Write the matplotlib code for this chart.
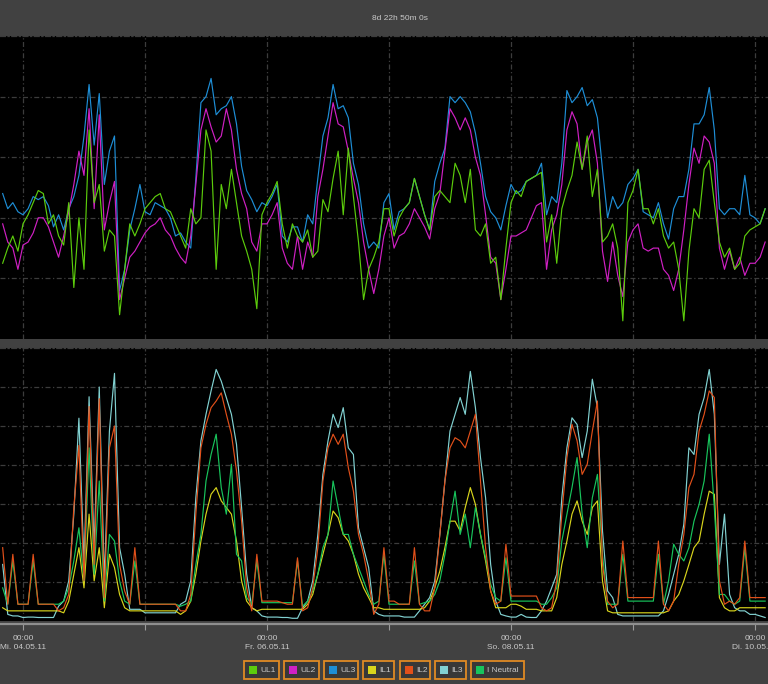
import matplotlib
matplotlib.use("Agg")
import matplotlib.pyplot as plt
from matplotlib.patches import Rectangle
from matplotlib import font_manager as fm

# ---------------- data (hourly, hours since Mi. 04.05.11 00:00) ----------------
hours = list(range(-4, 147))

ul1 = [227.5, 228.0, 228.4, 227.9, 228.8, 229.1, 229.5, 229.9, 229.8, 228.8,
       229.1, 228.4, 228.1, 229.5, 226.7, 229.0, 227.3, 231.9, 229.5, 230.1,
       227.9, 228.6, 228.4, 225.8, 227.3, 228.8, 228.4, 228.8, 229.3, 229.5,
       229.7, 229.8, 229.3, 229.2, 228.8, 228.4, 228.0, 229.3, 228.8, 229.0,
       231.9, 231.2, 227.3, 230.1, 229.3, 230.6, 229.5, 228.4, 227.9, 227.3,
       226.0,
       229.1, 229.5, 229.8, 230.2, 228.8, 228.0, 228.8, 228.4, 228.2, 228.6,
       227.7, 227.9, 229.6, 229.2, 230.3, 231.2, 229.1, 231.3, 229.7, 228.2,
       226.3, 227.3, 227.7, 228.2, 229.3, 229.3, 228.4, 229.0, 229.3, 229.5,
       230.3, 229.7, 229.1, 228.6, 229.7, 229.9, 229.7, 229.5, 230.8, 230.4,
       229.5, 230.6, 228.6, 228.4, 228.8, 227.5, 227.7, 226.3, 228.0,
       229.5, 229.9, 229.7, 230.2, 230.3, 230.4, 230.5, 228.2, 229.1, 227.5,
       229.3, 229.9, 230.4, 231.5, 230.6, 231.7, 229.7, 230.6, 228.2, 228.4,
       228.8, 228.0, 225.6, 229.5, 229.9, 230.6, 229.3, 229.3, 228.8, 229.3,
       228.4, 228.0, 228.2, 227.3, 225.6, 227.9, 229.3, 229.0, 230.6, 230.9,
       229.5, 228.2, 227.7, 228.0, 227.3, 227.5, 228.4, 228.6, 228.7, 228.8,
       229.3]

ul2 = [228.8, 228.2, 228.0, 227.3, 228.1, 228.2, 228.5, 229.0, 229.0, 228.7,
       228.2, 227.7, 228.4, 229.2, 230.1, 231.2, 230.4, 232.6, 229.3, 232.4,
       228.6, 229.5, 230.2, 226.3, 227.0, 227.7, 227.9, 228.2, 228.5, 228.7,
       228.8, 229.0, 228.6, 228.4, 228.0, 227.7, 227.5, 228.4, 230.1, 231.9,
       232.6, 232.0, 231.5, 231.7, 232.6, 231.9, 230.6, 229.8, 229.3, 228.2,
       227.9,
       228.8, 228.8, 229.1, 229.5, 228.0, 227.5, 227.3, 228.4, 227.3, 228.2,
       227.7, 229.7, 230.6, 231.7, 232.8, 232.1, 232.0, 231.2, 230.3, 229.5,
       228.2, 227.3, 226.5, 227.3, 228.4, 229.0, 228.0, 228.4, 228.5, 228.8,
       229.3, 229.0, 228.7, 228.3, 229.3, 229.8, 231.2, 232.6, 232.3, 231.9,
       232.3, 231.9, 231.0, 230.4, 229.1, 227.7, 227.5, 226.3, 227.3,
       228.4, 228.4, 228.5, 228.6, 229.0, 229.4, 229.5, 227.3, 228.6, 229.1,
       230.1, 231.9, 232.5, 232.1, 230.6, 231.5, 231.9, 230.8, 227.9, 226.9,
       228.2, 227.1, 226.4, 228.2, 228.6, 228.8, 228.0, 227.9, 228.0, 228.0,
       227.3, 227.1, 226.6, 227.3, 228.6, 230.1, 231.3, 230.8, 231.7, 231.5,
       230.8, 228.0, 227.3, 227.9, 227.3, 227.7, 227.1, 227.5, 227.5, 227.7,
       228.2]

ul3 = [229.8, 229.3, 229.5, 229.2, 229.1, 229.3, 229.7, 229.6, 229.7, 229.4,
       228.7, 229.1, 228.6, 229.3, 229.7, 230.4, 231.7, 233.4, 231.4, 233.1,
       230.1, 231.2, 231.7, 226.6, 227.3, 228.6, 229.3, 230.1, 229.2, 229.1,
       229.5, 229.4, 229.3, 229.0, 228.4, 228.5, 228.2, 228.0, 230.3, 232.8,
       233.0, 233.6, 232.4, 232.6, 232.7, 233.0, 232.1, 230.7, 229.9, 229.6,
       229.2,
       229.5, 229.4, 229.7, 230.1, 228.4, 228.2, 228.7, 228.7, 228.2, 229.1,
       228.8, 230.3, 231.7, 232.3, 233.4, 232.6, 232.7, 232.3, 230.8, 230.1,
       228.8, 228.0, 228.2, 228.0, 229.5, 229.8, 228.6, 229.2, 229.3, 229.5,
       230.3, 229.7, 229.1, 228.6, 230.2, 230.8, 231.3, 233.0, 232.8, 233.0,
       232.8, 232.5, 231.8, 230.8, 229.7, 229.2, 229.0, 228.6, 229.4,
       230.1, 229.8, 229.9, 230.2, 230.3, 230.4, 230.8, 229.1, 229.7, 229.5,
       230.8, 233.2, 232.8, 233.0, 233.3, 232.7, 232.9, 232.3, 230.6, 229.0,
       229.7, 229.3, 229.5, 230.1, 230.3, 230.6, 229.2, 229.1, 229.0, 229.5,
       228.8, 228.3, 229.3, 229.7, 229.7, 230.6, 232.1, 232.1, 232.4, 233.3,
       231.9, 229.3, 229.1, 229.3, 229.3, 229.1, 230.4, 229.1, 229.0, 228.8,
       229.3]

il1 = [3.4, 2.6, 2.6, 2.6, 2.6, 2.6, 2.6, 2.6, 2.6, 2.6,
       2.6, 2.6, 2.1, 5.1, 12.0, 18.8, 8.5, 27.4, 10.3, 18.8,
       3.4, 17.1, 13.7, 6.8, 3.4, 2.6, 2.6, 2.6, 2.6, 2.6,
       2.6, 2.6, 2.6, 2.6, 2.6, 1.7, 2.6, 5.1, 12.0, 20.5,
       27.4, 32.5, 34.2, 30.8, 29.1, 27.4, 20.5, 10.3, 5.1, 3.4,
       2.6,
       3.0, 3.0, 3.0, 3.0, 3.0, 3.0, 3.0, 3.0, 3.0, 4.3,
       6.8, 12.0, 17.1, 22.2, 28.2, 26.5, 22.2, 20.5, 17.1, 12.0,
       8.5, 6.0, 3.4, 3.4, 3.0, 3.0, 3.0, 3.0, 3.0, 3.0,
       3.0, 3.0, 3.4, 5.1, 8.5, 12.8, 18.8, 25.6, 25.6, 23.1,
       29.1, 34.2, 29.9, 22.2, 15.4, 7.7, 3.4, 3.4, 3.4,
       4.3, 4.3, 3.8, 3.0, 3.0, 3.0, 2.6, 2.6, 2.6, 6.0,
       14.5, 20.5, 27.4, 30.8, 25.6, 22.2, 29.1, 30.8, 10.3, 2.6,
       2.1, 2.1, 2.1, 2.1, 2.1, 2.1, 2.1, 2.1, 2.1, 2.1,
       2.1, 2.6, 5.1, 6.8, 10.3, 14.5, 18.8, 20.5, 27.4, 33.3,
       32.5, 6.0, 3.4, 2.6, 2.6, 3.4, 3.4, 3.4, 3.4, 3.4,
       3.4]

il2 = [18.8, 4.3, 17.1, 4.3, 4.3, 4.3, 17.1, 4.3, 4.3, 4.3,
       4.3, 2.6, 3.4, 6.8, 29.1, 45.0, 10.3, 55.0, 14.5, 57.0,
       6.0, 44.4, 50.0, 14.5, 7.7, 4.3, 18.8, 4.3, 4.3, 4.3,
       4.3, 4.3, 4.3, 4.3, 4.3, 2.6, 2.6, 6.8, 27.4, 44.4,
       50.4, 54.7, 56.4, 58.5, 53.0, 47.9, 38.5, 25.6, 8.5, 2.6,
       17.1,
       5.1, 5.1, 5.1, 5.1, 4.7, 4.3, 4.3, 16.2, 2.6, 3.4,
       8.5, 18.8, 35.9, 44.4, 47.9, 45.3, 47.9, 39.3, 33.3, 22.2,
       17.1, 10.3, 1.7, 4.3, 18.8, 5.1, 5.1, 4.3, 4.3, 4.3,
       18.8, 4.3, 2.6, 2.6, 8.5, 22.2, 35.9, 44.4, 47.0, 46.2,
       44.4, 48.7, 53.0, 35.9, 18.8, 7.7, 4.3, 5.1, 19.7,
       6.4, 6.4, 6.4, 6.4, 6.4, 6.4, 3.4, 2.6, 3.4, 10.3,
       27.4, 41.9, 50.4, 46.2, 37.6, 40.2, 48.7, 56.4, 14.5, 5.1,
       3.4, 4.3, 20.5, 6.0, 6.0, 6.0, 6.0, 6.0, 6.0, 20.5,
       4.3, 2.6, 5.1, 14.5, 22.2, 34.2, 37.6, 48.7, 53.0, 59.0,
       57.3, 10.3, 4.3, 5.1, 4.3, 6.0, 20.5, 6.0, 6.0, 6.0,
       6.0]

il3 = [14.5, 1.7, 1.3, 1.3, 0.9, 1.0, 1.0, 0.9, 0.9, 0.9,
       0.9, 3.8, 5.1, 10.3, 27.4, 52.0, 14.5, 57.5, 18.8, 60.0,
       10.3, 48.7, 63.5, 18.8, 12.0, 3.0, 3.0, 3.0, 2.1, 2.1,
       2.1, 2.1, 2.1, 2.1, 2.1, 4.3, 5.1, 10.3, 31.6, 46.2,
       53.0, 59.0, 64.5, 61.5, 57.3, 53.0, 45.3, 29.1, 12.0, 3.4,
       2.6,
       1.3, 1.0, 1.0, 1.0, 0.9, 0.9, 0.7, 0.7, 3.4, 5.1,
       10.3, 22.2, 37.6, 46.2, 53.0, 49.6, 54.7, 44.4, 42.7, 23.9,
       18.8, 13.7, 2.6, 1.7, 1.3, 1.3, 1.3, 1.3, 1.0, 1.0,
       1.0, 2.6, 4.3, 6.0, 10.3, 22.2, 35.9, 48.7, 53.0, 57.3,
       53.0, 64.0, 54.7, 41.9, 31.6, 14.5, 5.1, 1.7, 1.3,
       1.0, 1.0, 1.7, 1.0, 0.9, 0.9, 2.6, 5.1, 8.5, 12.0,
       31.6, 44.4, 52.1, 50.4, 41.9, 48.7, 62.0, 54.7, 23.1, 7.7,
       6.0, 1.7, 1.3, 1.3, 1.3, 1.3, 1.3, 1.3, 1.3, 1.3,
       2.6, 6.8, 12.0, 17.1, 24.8, 44.4, 42.7, 53.0, 57.3, 64.5,
       53.0, 14.5, 27.4, 6.8, 3.4, 2.6, 2.6, 1.7, 1.7, 1.3,
       0.9]

i_neutral = [8.5, 4.3, 15.4, 4.3, 4.3, 4.3, 15.4, 4.3, 4.3, 4.3,
             4.3, 4.3, 5.1, 8.5, 15.4, 23.9, 10.3, 44.4, 12.0, 35.9,
             5.1, 22.2, 20.5, 10.3, 5.1, 4.3, 15.4, 4.3, 4.3, 4.3,
             4.3, 4.3, 4.3, 4.3, 4.3, 3.8, 4.3, 5.1, 14.5, 22.2,
             35.9, 42.7, 47.9, 34.2, 27.4, 40.2, 17.1, 15.4, 6.0, 4.3,
             15.4,
             4.7, 4.7, 4.7, 4.7, 4.7, 4.7, 4.7, 15.4, 3.8, 5.1,
             7.7, 12.0, 18.8, 22.2, 35.9, 29.1, 22.2, 22.2, 17.1, 13.7,
             10.3, 6.8, 4.3, 5.1, 17.1, 4.3, 4.3, 4.3, 4.3, 4.3,
             15.4, 4.3, 4.7, 5.1, 6.8, 10.3, 17.1, 25.6, 33.3, 22.2,
             27.4, 18.8, 29.1, 22.2, 16.2, 9.4, 6.0, 5.1, 16.2,
             5.1, 5.1, 5.1, 5.1, 5.1, 5.1, 4.3, 4.3, 6.0, 8.5,
             20.5, 27.4, 34.2, 41.9, 27.4, 18.8, 31.6, 37.6, 17.1, 4.3,
             4.3, 4.3, 17.1, 5.1, 5.1, 5.1, 5.1, 5.1, 5.1, 17.1,
             4.3, 10.3, 19.7, 17.1, 15.4, 18.8, 25.6, 29.9, 35.9, 47.9,
             29.1, 6.8, 6.8, 5.1, 4.3, 5.1, 18.8, 5.1, 5.1, 5.1,
             5.1]

for _s in (ul1, ul2, ul3, il1, il2, il3, i_neutral):
    assert len(_s) == len(hours), len(_s)

legend_labels = ["UL1", "UL2", "UL3", "IL1", "IL2", "IL3", "I Neutral"]
day_ticks = [0, 48, 96, 144]
day_labels = ["00:00\nMi. 04.05.11", "00:00\nFr. 06.05.11",
              "00:00\nSo. 08.05.11", "00:00\nDi. 10.05.11"]
minor_day_ticks = [24, 72, 120]
header_text = "8d 22h 50m 0s"

# ---------------- styles ----------------
colors = {"UL1": "#5ccc0c", "UL2": "#d020c4", "UL3": "#1e8ed6",
          "IL1": "#d8d41c", "IL2": "#e2501a", "IL3": "#82d2d2",
          "I Neutral": "#18c45c"}

_installed = {f.name for f in fm.fontManager.ttflist}
_main = next((n for n in ["Liberation Sans Narrow", "Liberation Sans", "Roboto"]
              if n in _installed), "DejaVu Sans")
FONT = [_main, "DejaVu Sans"]
FS = 6.0 if _main != "Liberation Sans Narrow" else 6.8
BG = "#414141"
TXT = "#c9c9c9"
W, H = 768, 684

fig = plt.figure(figsize=(W / 100, H / 100), dpi=100, facecolor=BG)
ax1 = fig.add_axes([0, 1 - 339 / H, 1, 303 / H])
ax2 = fig.add_axes([0, 1 - 621 / H, 1, 273 / H])

grid_kw = dict(color="#3c3c3c", linewidth=0.9, linestyle=(0, (4, 2, 1, 2)))
for ax in (ax1, ax2):
    ax.set_facecolor("black")
    ax.set_xlim(-4.525, 146.56)
    for s in ax.spines.values():
        s.set_visible(False)
    ax.spines["top"].set_visible(True)
    ax.spines["top"].set_color("#3c3c3c")
    ax.spines["top"].set_linestyle((0, (4, 2, 1, 2)))
    ax.spines["top"].set_linewidth(0.9)
    ax.set_xticks(day_ticks)
    ax.set_xticks(minor_day_ticks, minor=True)
    ax.grid(True, which="both", axis="x", **grid_kw)
    ax.grid(True, which="major", axis="y", **grid_kw)
    ax.set_axisbelow(True)
    ax.tick_params(axis="y", left=False, labelleft=False)

ax1.set_ylim(225, 235)
ax1.set_yticks([227, 229, 231, 233])
ax1.tick_params(axis="x", which="both", bottom=False, labelbottom=False)
for key, data in (("UL3", ul3), ("UL2", ul2), ("UL1", ul1)):
    ax1.plot(hours, data, color=colors[key], lw=0.85)

ax2.set_ylim(0, 70)
ax2.set_yticks([10, 20, 30, 40, 50, 60])
for key, data in (("IL3", il3), ("IL1", il1), ("I Neutral", i_neutral), ("IL2", il2)):
    ax2.plot(hours, data, color=colors[key], lw=0.85)

ax2.spines["bottom"].set_visible(True)
ax2.spines["bottom"].set_color("#8e8e8e")
ax2.spines["bottom"].set_linewidth(1.6)
ax2.spines["bottom"].set_position(("outward", 2.5))
ax2.set_xticklabels(day_labels, fontfamily=FONT, fontsize=FS, color=TXT,
                    linespacing=1.45)
ax2.tick_params(axis="x", which="major", length=4.5, width=0.8, color="#9a9a9a", pad=3)
ax2.tick_params(axis="x", which="minor", length=4.5, width=0.8, color="#9a9a9a")

# header
fig.text(400 / W, 1 - 19 / H, header_text, ha="center", va="center",
         color=TXT, fontsize=FS, fontfamily=FONT)

# legend (boxes with orange border)
box_x = [244, 284, 324, 363, 400, 435, 471]
box_w = [35, 35, 34, 31, 30, 31, 53]
by0, by1 = 661, 679
for lab, x0, w in zip(legend_labels, box_x, box_w):
    fig.add_artist(Rectangle((x0 / W, 1 - by1 / H), w / W, (by1 - by0) / H,
                             transform=fig.transFigure, facecolor="#383838",
                             edgecolor="#e08a24", linewidth=1.3))
    fig.add_artist(Rectangle(((x0 + 5) / W, 1 - 673.5 / H), 7.5 / W, 7.5 / H,
                             transform=fig.transFigure, facecolor=colors[lab],
                             edgecolor="none"))
    fig.text((x0 + 16) / W, 1 - 670 / H, lab, ha="left", va="center",
             color=TXT, fontsize=FS, fontfamily=FONT)

fig.savefig("out.png", dpi=100, facecolor=BG)
